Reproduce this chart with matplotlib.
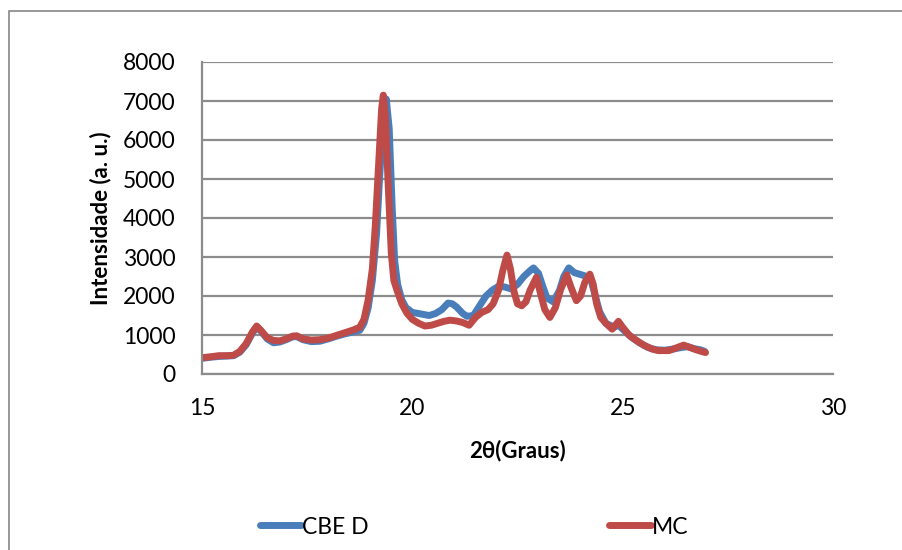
import matplotlib
matplotlib.use("Agg")
import matplotlib.pyplot as plt
from matplotlib.patches import Rectangle

# Data
cbe_x = [15.0, 15.2, 15.4, 15.6, 15.75, 15.9, 16.05, 16.2, 16.3, 16.4, 16.55, 16.7, 16.85, 17.0,
         17.15, 17.25, 17.4, 17.6, 17.8, 18.0, 18.2, 18.4, 18.6, 18.75, 18.85, 18.95, 19.05, 19.15,
         19.22, 19.3, 19.38, 19.45, 19.52, 19.58, 19.65, 19.75, 19.85, 20.0, 20.2, 20.4, 20.55, 20.7,
         20.85, 20.95, 21.05, 21.2, 21.3, 21.45, 21.6, 21.75, 21.9, 22.05, 22.2, 22.35, 22.5, 22.65,
         22.8, 22.88, 23.0, 23.1, 23.2, 23.35, 23.5, 23.6, 23.72, 23.85, 24.0, 24.15, 24.25, 24.35,
         24.45, 24.6, 24.8, 24.9, 25.0, 25.2, 25.4, 25.6, 25.8, 26.0, 26.2, 26.4, 26.55, 26.7, 26.85,
         26.95]
cbe_y = [400, 430, 450, 460, 470, 560, 750, 1050, 1200, 1100, 900, 800, 820, 880,
         950, 960, 880, 830, 840, 900, 970, 1030, 1080, 1120, 1300, 1700, 2400, 3600,
         5000, 6400, 7050, 6300, 4300, 2900, 2300, 1900, 1700, 1580, 1540, 1500, 1550, 1650,
         1820, 1800, 1720, 1550, 1480, 1500, 1750, 2000, 2150, 2250, 2230, 2180, 2300, 2500,
         2650, 2720, 2580, 2250, 1950, 1850, 2150, 2500, 2720, 2600, 2550, 2500, 2400, 2000,
         1600, 1300, 1200, 1250, 1150, 950, 800, 680, 620, 610, 640, 680, 700, 650, 620,
         580]

mc_x = [15.0, 15.2, 15.4, 15.6, 15.75, 15.9, 16.05, 16.2, 16.3, 16.4, 16.55, 16.7, 16.85, 17.0,
        17.15, 17.25, 17.4, 17.6, 17.8, 18.0, 18.2, 18.4, 18.6, 18.75, 18.85, 18.95, 19.05, 19.12,
        19.2, 19.27, 19.31, 19.36, 19.42, 19.5, 19.56, 19.65, 19.75, 19.87, 20.0, 20.15, 20.3, 20.45,
        20.6, 20.75, 20.9, 21.05, 21.2, 21.35, 21.5, 21.65, 21.8, 21.92, 22.05, 22.15, 22.25, 22.33,
        22.42, 22.5, 22.6, 22.7, 22.8, 22.95, 23.05, 23.15, 23.27, 23.4, 23.52, 23.67, 23.78, 23.9,
        24.0, 24.1, 24.22, 24.3, 24.38, 24.48, 24.6, 24.75, 24.9, 25.0, 25.15, 25.3, 25.5, 25.7,
        25.85, 26.1, 26.3, 26.45, 26.6, 26.75, 26.9, 26.97]
mc_y = [420, 440, 470, 470, 480, 580, 780, 1080, 1230, 1120, 930, 860, 850, 900,
        970, 980, 900, 870, 880, 920, 990, 1060, 1130, 1200, 1400, 1900, 2700, 3800,
        5400, 6800, 7150, 6600, 5000, 3100, 2400, 2100, 1800, 1560, 1400, 1300, 1230, 1250,
        1300, 1350, 1380, 1360, 1320, 1250, 1450, 1580, 1650, 1800, 2150, 2650, 3050, 2700,
        2100, 1800, 1750, 1850, 2150, 2480, 2050, 1650, 1450, 1700, 2150, 2540, 2200, 1880,
        2000, 2350, 2560, 2300, 1800, 1450, 1300, 1150, 1350, 1200, 1000, 880, 740, 640,
        600, 600, 680, 740, 680, 620, 570, 550]

x_ticks = [15, 20, 25, 30]
y_ticks = [0, 1000, 2000, 3000, 4000, 5000, 6000, 7000, 8000]
series_names = ["CBE D", "MC"]

FONT = ["Lato", "DejaVu Sans"]
plt.rcParams["font.family"] = FONT

W, H = 903, 550
fig = plt.figure(figsize=(W / 100, H / 100), dpi=100)
fig.patch.set_facecolor("white")

# outer chart border (Excel chart area)
fig.add_artist(Rectangle((9 / W, -0.2), 2.0, 1.2 - 11 / H, transform=fig.transFigure,
                         fill=False, edgecolor="#868686", linewidth=1.2))

ax = fig.add_axes([202 / W, 1 - 374 / H, (833 - 202) / W, (374 - 62) / H])
ax.set_xlim(15, 30)
ax.set_ylim(0, 8000)
ax.set_xticks(x_ticks)
ax.set_yticks(y_ticks)
ax.set_xticklabels([str(t) for t in x_ticks])
ax.set_yticklabels([str(t) for t in y_ticks])
ax.tick_params(axis="both", length=0, labelsize=16.5, colors="black")
ax.tick_params(axis="y", pad=19)
ax.tick_params(axis="x", pad=17)

grid_c = "#8c8c8c"
ax.grid(axis="y", color=grid_c, linewidth=1.6)
ax.set_axisbelow(True)
for s in ["top", "right"]:
    ax.spines[s].set_visible(False)
ax.spines["left"].set_color(grid_c)
ax.spines["bottom"].set_color(grid_c)
ax.spines["left"].set_linewidth(1.6)
ax.spines["bottom"].set_linewidth(1.6)

blue = "#4a7ebb"
red = "#be4b48"
l1, = ax.plot(cbe_x, cbe_y, color=blue, linewidth=5.0, solid_capstyle="round",
              solid_joinstyle="round", label=series_names[0])
l2, = ax.plot(mc_x, mc_y, color=red, linewidth=5.0, solid_capstyle="round",
              solid_joinstyle="round", label=series_names[1])

ax.set_ylabel("Intensidade (a. u.)", fontsize=16, fontweight="bold", labelpad=8)
ax.set_xlabel("2θ(Graus)", fontsize=16, fontweight="bold", labelpad=15)

leg = fig.legend(handles=[l1, l2], labels=series_names, loc="center",
                 bbox_to_anchor=(474 / W, 1 - 527 / H), ncol=2, frameon=False,
                 fontsize=16.5, handlelength=1.8, handletextpad=0.05, columnspacing=10.5)

fig.savefig("out.png", dpi=100, facecolor="white")
